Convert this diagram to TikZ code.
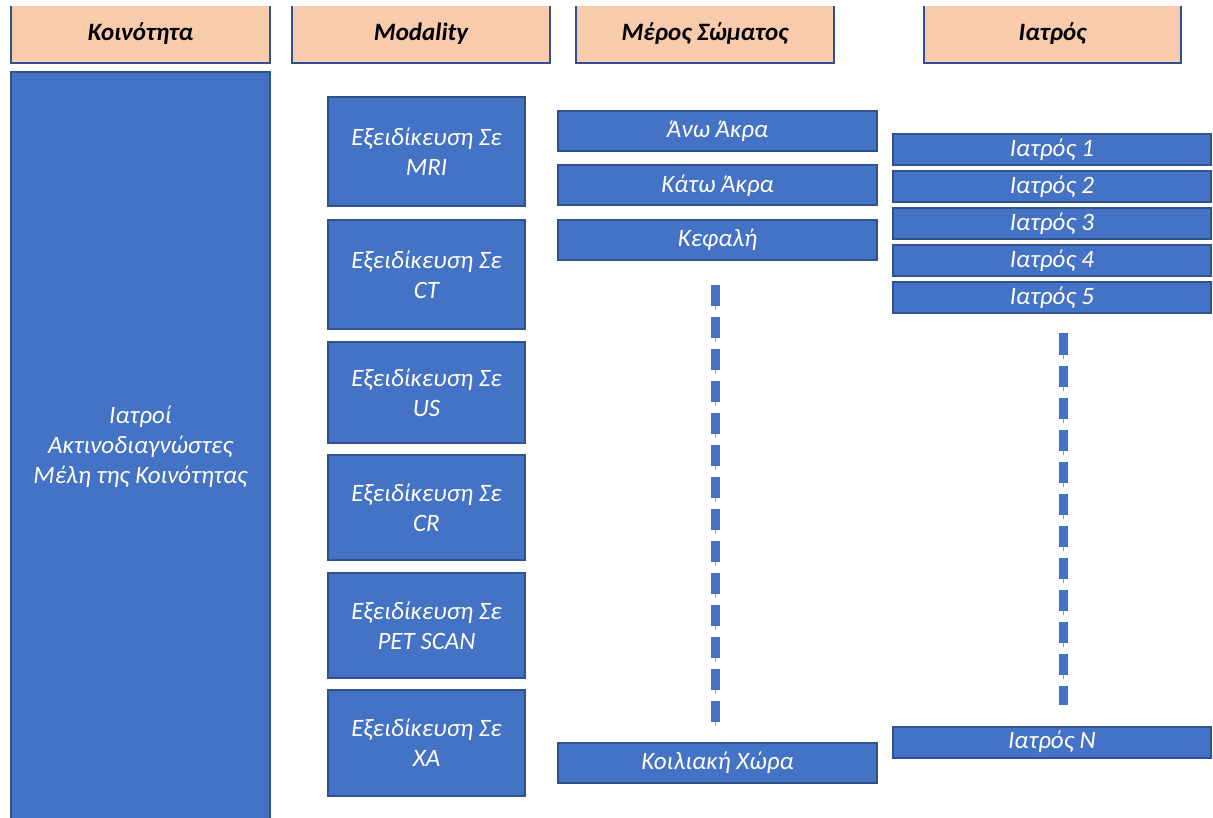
\documentclass[tikz,border=0pt]{standalone}
\usepackage{fontspec}
\setmainfont{Carlito}
\usetikzlibrary{positioning}

\definecolor{boxblue}{HTML}{4472C4}
\definecolor{boxline}{HTML}{2F528F}
\definecolor{headpeach}{HTML}{F8CBAD}
\definecolor{capgray}{HTML}{8E9DB4}

\begin{document}
\begin{tikzpicture}[x=1pt,y=-1pt,
        head/.style={draw=boxline, line width=2pt, fill=headpeach, inner sep=0pt,
            minimum height=58pt, font=\fontsize{25}{30}\selectfont\bfseries\itshape},
        bluebox/.style={draw=boxline, line width=2pt, fill=boxblue, text=white, inner sep=0pt,
            align=center, font=\fontsize{25}{30}\selectfont\itshape},
        dotsline/.style={line width=9pt, draw=boxblue, dash pattern=on 21pt off 11pt, dash phase=30pt,
            preaction={draw=capgray, dash pattern=on 25pt off 7pt}}]
            \useasboundingbox (0,0) rectangle (1213,818);
            \clip (0,7) rectangle (1213,818);
            % headers
            \node[head, minimum width=259pt] (koin) at (140.5,34) {Κοινότητα};
            \node[head, minimum width=258pt] (mod) at (421,34) {Modality};
            \node[head, minimum width=258pt] (meros) at (705,34) {Μέρος Σώματος};
            \node[head, minimum width=257pt] (iatr) at (1052.5,34) {Ιατρός};
            % community
            \node[bluebox, minimum width=259pt, minimum height=750pt] (melh) at (140.5,447)
                {Ιατροί\\Ακτινοδιαγνώστες\\Μέλη της Κοινότητας};
            % modalities
            \foreach \y/\h/\m [count=\i] in {151.5/109/MRI, 274.5/109/CT, 392.5/101/US,
                    507.5/105/CR, 625.5/105/PET SCAN, 743/106/XA}
                \node[bluebox, minimum width=197pt, minimum height=\h pt] (mod\i) at (426.5,\y)
                    {Εξειδίκευση Σε\\\m};
            % body parts
            \node[bluebox, minimum width=319pt, minimum height=40pt] (anw) at (717.5,131) {Άνω Άκρα};
            \node[bluebox, minimum width=319pt, minimum height=40pt] (katw) at (717.5,185.5) {Κάτω Άκρα};
            \node[bluebox, minimum width=319pt, minimum height=40pt] (kef) at (717.5,240) {Κεφαλή};
            \node[bluebox, minimum width=319pt, minimum height=40pt] (koil) at (717.5,763) {Κοιλιακή Χώρα};
            \draw[dotsline] ([xshift=-2pt,yshift=-22pt]kef.south) -- ([xshift=-2pt,yshift=15pt]koil.north);
            % doctors
            \foreach \i in {1,...,5}
                \node[bluebox, minimum width=318pt, minimum height=31pt] (iatr\i) at (1052,{150+37*(\i-1)})
                    {Ιατρός \i};
            \node[bluebox, minimum width=318pt, minimum height=31pt] (iatrN) at (1052,742) {Ιατρός N};
            \draw[dotsline] ([xshift=11pt,yshift=-17pt]iatr5.south) -- ([xshift=11pt,yshift=21pt]iatrN.north);
        \end{tikzpicture}
\end{document}
